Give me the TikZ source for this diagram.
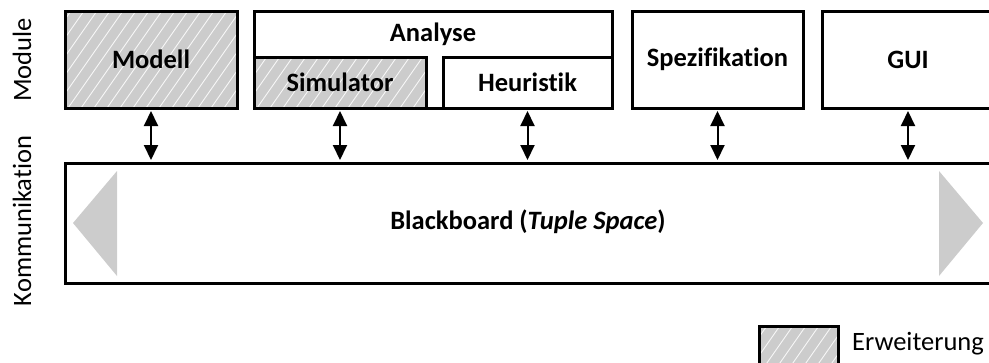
\documentclass[tikz,border=0pt]{standalone}
\usepackage{fontspec}
\setmainfont{Carlito}[Ligatures=NoCommon]
\usetikzlibrary{arrows.meta}
\definecolor{extgray}{HTML}{CCCCCC}
\tikzset{
  box/.style={draw, line width=3pt, inner sep=0pt, font=\fontsize{26.5}{30}\selectfont\bfseries},
  lbl/.style={inner sep=0pt, font=\fontsize{26.5}{30}\selectfont\bfseries},
  side/.style={inner sep=0pt, rotate=90, font=\fontsize{26.5}{30}\selectfont},
  link/.style={{Triangle[width=14pt,length=15pt]}-{Triangle[width=14pt,length=15pt]}, line width=2pt, shorten <=1.5pt, shorten >=1.5pt},
  marker/.style={fill=extgray, draw=none}
}
% hatched fill for the "Erweiterung" parts: #1,#2 top-left, #3,#4 bottom-right
\newcommand\hatchrect[4]{%
  \fill[extgray] (#1,#2) rectangle (#3,#4);
  \begin{scope}
    \clip (#1,#2) rectangle (#3,#4);
    \foreach \k in {-140,-127,...,200}
      \draw[white!85!extgray, line width=0.9pt] ({#1+\k},#4) -- ++(70,-100);
  \end{scope}}
\begin{document}
\begin{tikzpicture}[x=1pt, y=-1pt]
\useasboundingbox (0,0) rectangle (989,362);
\clip (0,0) rectangle (989,362);

% module row
\hatchrect{65}{11}{237}{108}
\node[box, minimum width=172pt, minimum height=97pt] (modell) at (151,59.5) {Modell};

\node[box, minimum width=358pt, minimum height=97pt] (analyse) at (433,59.5) {};
\node[lbl] (analyseT) at (433,34) {Analyse};
\hatchrect{254}{57}{426}{108}
\node[box, minimum width=172pt, minimum height=51pt] (sim) at (340,82.5) {Simulator};
\node[box, minimum width=169pt, minimum height=51pt] (heur) at (527.5,82.5) {Heuristik};

\node[box, minimum width=171pt, minimum height=97pt] (spez) at (717.5,59.5) {Spezifikation};
\node[box, minimum width=172pt, minimum height=97pt] (gui) at (908,59.5) {GUI};

% communication layer
\node[box, minimum width=940pt, minimum height=120pt] (bb) at (535,223) {};
\fill[marker] (73,223) -- (117,171) -- (117,276) -- cycle;
\fill[marker] (939,171) -- (939,276) -- (983,223) -- cycle;
\node[lbl] (bbT) at (528,222) {Blackboard (\textit{Tuple Space})};

% links between modules and blackboard
\foreach \m in {modell,sim,heur,spez,gui}
  \draw[link] (\m.south) -- (\m.south |- bb.north);

% layer labels
\node[side] (lmod) at (22,60) {Module};
\node[side] (lkom) at (22,221) {Kommunikation};

% legend
\hatchrect{759}{326}{838}{370}
\node[draw, line width=3pt, minimum width=79pt, minimum height=44pt, inner sep=0pt] (leg) at (798.5,348) {};
\node[anchor=west, inner sep=0pt, font=\fontsize{26.5}{30}\selectfont] (legT) at (852,344) {Erweiterung};
\end{tikzpicture}
\end{document}
